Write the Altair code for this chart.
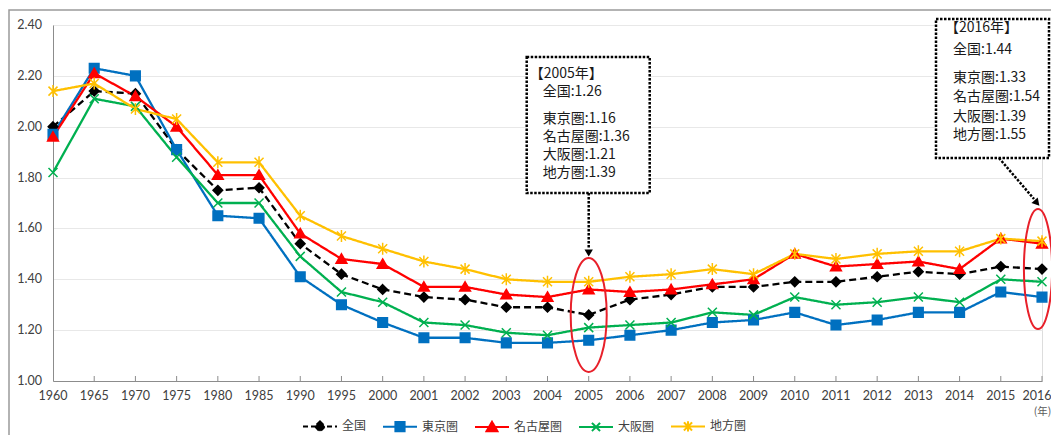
import altair as alt
import pandas as pd

# ---------------- data ----------------
years = ["1960", "1965", "1970", "1975", "1980", "1985", "1990", "1995", "2000",
         "2001", "2002", "2003", "2004", "2005", "2006", "2007", "2008", "2009",
         "2010", "2011", "2012", "2013", "2014", "2015", "2016"]
series_names = ["全国", "東京圏", "名古屋圏", "大阪圏", "地方圏"]
national = [2.00, 2.14, 2.13, 1.91, 1.75, 1.76, 1.54, 1.42, 1.36, 1.33, 1.32, 1.29, 1.29,
            1.26, 1.32, 1.34, 1.37, 1.37, 1.39, 1.39, 1.41, 1.43, 1.42, 1.45, 1.44]
tokyo = [1.97, 2.23, 2.20, 1.91, 1.65, 1.64, 1.41, 1.30, 1.23, 1.17, 1.17, 1.15, 1.15,
         1.16, 1.18, 1.20, 1.23, 1.24, 1.27, 1.22, 1.24, 1.27, 1.27, 1.35, 1.33]
nagoya = [1.96, 2.21, 2.12, 2.00, 1.81, 1.81, 1.58, 1.48, 1.46, 1.37, 1.37, 1.34, 1.33,
          1.36, 1.35, 1.36, 1.38, 1.40, 1.50, 1.45, 1.46, 1.47, 1.44, 1.56, 1.54]
osaka = [1.82, 2.11, 2.08, 1.88, 1.70, 1.70, 1.49, 1.35, 1.31, 1.23, 1.22, 1.19, 1.18,
         1.21, 1.22, 1.23, 1.27, 1.26, 1.33, 1.30, 1.31, 1.33, 1.31, 1.40, 1.39]
regional = [2.14, 2.17, 2.07, 2.03, 1.86, 1.86, 1.65, 1.57, 1.52, 1.47, 1.44, 1.40, 1.39,
            1.39, 1.41, 1.42, 1.44, 1.42, 1.50, 1.48, 1.50, 1.51, 1.51, 1.56, 1.55]
y_ticks = [1.0, 1.2, 1.4, 1.6, 1.8, 2.0, 2.2, 2.4]

note_2005 = ["【2005年】", "全国:1.26", "東京圏:1.16", "名古屋圏:1.36", "大阪圏:1.21", "地方圏:1.39"]
note_2016 = ["【2016年】", "全国:1.44", "東京圏:1.33", "名古屋圏:1.54", "大阪圏:1.39", "地方圏:1.55"]

series_colors = ["#000000", "#0070C0", "#FF0000", "#00B050", "#FFC000"]

rows = []
for name, vals in zip(series_names, [national, tokyo, nagoya, osaka, regional]):
    for yr, v in zip(years, vals):
        rows.append({"year": yr, "series": name, "value": v})
df = pd.DataFrame(rows)
one = pd.DataFrame({"k": [0]})
ytick_df = pd.DataFrame({"value": y_ticks, "label": [f"{v:.2f}" for v in y_ticks]})

# ---------------- styling ----------------
W, H = 989, 356
CJK = "Noto Sans CJK JP"
NUM = "Lato"
LABEL_COLOR = "#404040"

marker_paths = [
    "M0,-0.8L0.8,0L0,0.8L-0.8,0Z",
    "M-0.8,-0.8L0.8,-0.8L0.8,0.8L-0.8,0.8Z",
    "M0,-0.85L0.9,0.7L-0.9,0.7Z",
    "M-0.75,-0.75L0.75,0.75M-0.75,0.75L0.75,-0.75",
    "M-0.75,-0.75L0.75,0.75M-0.75,0.75L0.75,-0.75M0,-1L0,1",
]
legend_paths = [
    "M-1,0L1,0M0,-0.3L0.3,0L0,0.3L-0.3,0Z",
    "M-1,0L1,0M-0.27,-0.27L0.27,-0.27L0.27,0.27L-0.27,0.27Z",
    "M-1,0L1,0M0,-0.3L0.32,0.25L-0.32,0.25Z",
    "M-1,0L1,0M-0.24,-0.24L0.24,0.24M-0.24,0.24L0.24,-0.24",
    "M-1,0L1,0M-0.24,-0.24L0.24,0.24M-0.24,0.24L0.24,-0.24M0,-0.3L0,0.3",
]
line_dash = [[7, 4], [1, 0], [1, 0], [1, 0], [1, 0]]
legend_dash = [[5, 3], [1, 0], [1, 0], [1, 0], [1, 0]]


def ellipse_path(a):
    k = 0.5523
    return (f"M0,-1C{k*a:.4f},-1 {a:.4f},{-k:.4f} {a:.4f},0"
            f"C{a:.4f},{k:.4f} {k*a:.4f},1 0,1"
            f"C{-k*a:.4f},1 {-a:.4f},{k:.4f} {-a:.4f},0"
            f"C{-a:.4f},{-k:.4f} {-k*a:.4f},-1 0,-1Z")


x_scale = alt.Scale(type="point", domain=years, padding=0)
y_scale = alt.Scale(domain=[1.0, 2.4], nice=False, zero=False)

x_enc = alt.X(
    "year:N", scale=x_scale,
    axis=alt.Axis(title="(年)", titleX=W, titleY=30, titleAlign="center",
                  titleBaseline="middle", titleFont=CJK, titleFontSize=10.5,
                  titleFontWeight="normal", titleColor="#595959",
                  labels=False, ticks=False, domainColor="#8c8c8c", grid=False),
)
y_enc = alt.Y(
    "value:Q", scale=y_scale,
    axis=alt.Axis(title="", values=y_ticks, labels=False, ticks=False,
                  domainColor="#8c8c8c", gridColor="#e8e8e8", grid=True),
)

color_scale = alt.Scale(domain=series_names, range=series_colors)

border = alt.Chart(one).mark_rect(filled=False, color="#9a9a9a", strokeWidth=1.5).encode(
    x=alt.value(-44), x2=alt.value(1010), y=alt.value(-15), y2=alt.value(430))

ticks = alt.Chart(pd.DataFrame({"year": years[1:]})).mark_rule(
    color="#8c8c8c", strokeWidth=1).encode(
    x=alt.X("year:N", scale=x_scale), y=alt.value(H), y2=alt.value(H - 5))

x_labels = alt.Chart(pd.DataFrame({"year": years[:-1]})).mark_text(
    font=NUM, fontSize=12.5, color=LABEL_COLOR, align="center", baseline="middle").encode(
    x=alt.X("year:N", scale=x_scale), y=alt.value(H + 15), text="year:N")
# the last label sits at the very edge of the page: nudge it inward a little
x_label_last = alt.Chart(pd.DataFrame({"year": years[-1:]})).mark_text(
    font=NUM, fontSize=12.5, color=LABEL_COLOR, align="center", baseline="middle",
    dx=-5).encode(
    x=alt.X("year:N", scale=x_scale), y=alt.value(H + 15), text="year:N")

y_labels = alt.Chart(ytick_df).mark_text(
    font=NUM, fontSize=12.5, color=LABEL_COLOR, align="right", baseline="middle").encode(
    x=alt.value(-11), y=alt.Y("value:Q", scale=y_scale), text="label:N")

lines = alt.Chart(df).mark_line(strokeWidth=2.3).encode(
    x=x_enc, y=y_enc,
    color=alt.Color("series:N", scale=color_scale, legend=None),
    strokeDash=alt.StrokeDash("series:N",
                              scale=alt.Scale(domain=series_names, range=line_dash),
                              legend=None),
)

points = alt.Chart(df).mark_point(filled=True, size=144, strokeWidth=1.5, opacity=1).encode(
    x=x_enc, y=y_enc,
    fill=alt.Fill("series:N", scale=color_scale, legend=None),
    stroke=alt.Stroke("series:N", scale=color_scale, legend=None),
    shape=alt.Shape("series:N", scale=alt.Scale(domain=series_names, range=marker_paths),
                    legend=None),
)

leg = alt.Legend(orient="none", legendX=249, legendY=383, direction="horizontal",
                 title=None, symbolSize=1156, symbolStrokeWidth=2, symbolOpacity=1,
                 labelFont=CJK, labelFontSize=12, labelColor=LABEL_COLOR, labelOffset=4,
                 columnPadding=12, padding=0)
legend_layer = alt.Chart(pd.DataFrame({"series": series_names})).transform_filter(
    "false").mark_point(filled=True, opacity=1).encode(
    fill=alt.Fill("series:N", scale=color_scale, legend=leg),
    stroke=alt.Stroke("series:N", scale=color_scale, legend=leg),
    shape=alt.Shape("series:N", scale=alt.Scale(domain=series_names, range=legend_paths),
                    legend=leg),
    strokeDash=alt.StrokeDash("series:N",
                              scale=alt.Scale(domain=series_names, range=legend_dash),
                              legend=leg),
)

RED = "#E8202A"
ell_2005 = alt.Chart(one).mark_point(shape=ellipse_path(0.316), size=114 * 114, filled=False,
                                     stroke=RED, strokeWidth=2, opacity=1).encode(
    x=alt.XDatum("2005"), y=alt.YDatum(national[years.index("2005")]))
ell_2016 = alt.Chart(one).mark_point(shape=ellipse_path(0.235), size=120 * 120, filled=False,
                                     stroke=RED, strokeWidth=2, opacity=1, xOffset=-4).encode(
    x=alt.XDatum("2016"), y=alt.YDatum(national[years.index("2016")]))

DOT = [2.5, 1.5]
box_2005 = alt.Chart(one).mark_rect(fill="white", stroke="black", strokeWidth=2.5,
                                    strokeDash=DOT, xOffset=-62, x2Offset=61).encode(
    x=alt.XDatum("2005"), x2=alt.X2Datum("2005"), y=alt.value(32), y2=alt.value(168))
box_2016 = alt.Chart(one).mark_rect(fill="white", stroke="black", strokeWidth=2.5,
                                    strokeDash=DOT, xOffset=-106, x2Offset=7).encode(
    x=alt.XDatum("2016"), x2=alt.X2Datum("2016"), y=alt.value(-6), y2=alt.value(133))

arrow_2005 = alt.Chart(one).mark_rule(color="black", strokeWidth=2.5, strokeDash=DOT).encode(
    x=alt.XDatum("2005"), y=alt.value(168), y2=alt.value(224))
head_2005 = alt.Chart(one).mark_point(shape="triangle-down", size=70, filled=True,
                                      color="black", opacity=1).encode(
    x=alt.XDatum("2005"), y=alt.value(228))
arrow_2016 = alt.Chart(one).mark_rule(color="black", strokeWidth=2.5, strokeDash=DOT,
                                      xOffset=-43, x2Offset=-8).encode(
    x=alt.XDatum("2016"), x2=alt.X2Datum("2016"), y=alt.value(133), y2=alt.value(174))
head_2016 = alt.Chart(one).mark_point(shape="triangle-down", size=70, filled=True,
                                      color="black", opacity=1, angle=318.6,
                                      xOffset=-5).encode(
    x=alt.XDatum("2016"), y=alt.value(178))


def note_layers(year, lines_, ys, dx_head, dx_body):
    out = []
    for i, (txt, yy) in enumerate(zip(lines_, ys)):
        out.append(alt.Chart(one).mark_text(
            text=txt, align="left", baseline="middle", font=CJK, fontSize=14,
            color="#1a1a1a", dx=dx_head if i == 0 else dx_body).encode(
            x=alt.XDatum(year), y=alt.value(yy)))
    return out


texts = (note_layers("2005", note_2005, [49, 67, 94, 112, 130, 148], -59, -46) +
         note_layers("2016", note_2016, [3, 25, 53, 72, 92, 110], -97, -89))

chart = alt.layer(
    border, lines, points, ticks, x_labels, x_label_last, y_labels, ell_2005, ell_2016,
    box_2005, box_2016, arrow_2005, head_2005, arrow_2016, head_2016,
    *texts, legend_layer,
).resolve_scale(
    shape="independent", fill="independent", stroke="independent",
    strokeDash="independent", color="independent",
).properties(
    width=W, height=H,
    autosize=alt.AutoSizeParams(type="none"),
    padding={"left": 45, "top": 17, "right": 9, "bottom": 54},
).configure_view(strokeWidth=0).configure(background="white")

chart.save("out.html", embed_options={"renderer": "svg", "actions": False})
